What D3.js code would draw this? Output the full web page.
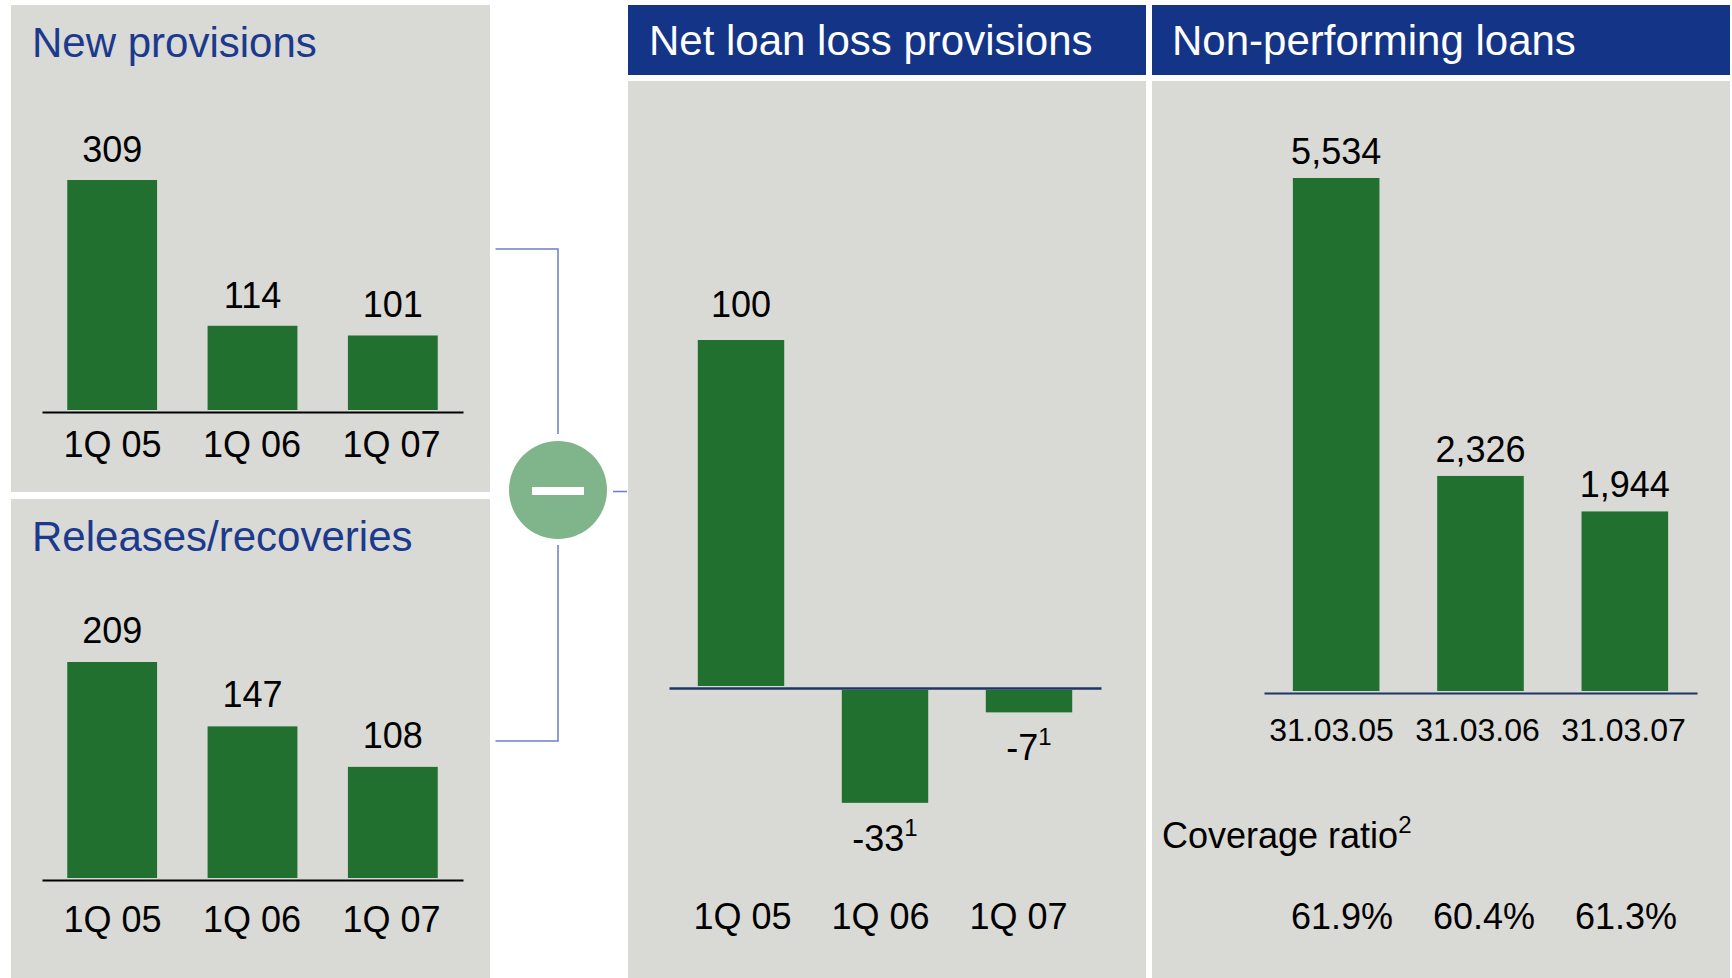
<!DOCTYPE html>
<html>
<head>
<meta charset="utf-8">
<script src="https://cdn.jsdelivr.net/npm/d3@7"></script>
<style>
  html, body { margin: 0; padding: 0; background: #ffffff; }
  svg { display: block; }
  text { font-family: "Liberation Sans", Arial, sans-serif; }
</style>
</head>
<body>
<svg id="chart" width="1732" height="978"></svg>
<script>
// ---------- data ----------
const quarters = ["1Q 05", "1Q 06", "1Q 07"];
const newProvisions = [309, 114, 101];
const releasesRecoveries = [209, 147, 108];
const netLoanLoss = [100, -33, -7];
const netFootnotes = ["", "1", "1"];
const nplDates = ["31.03.05", "31.03.06", "31.03.07"];
const nplValues = [5534, 2326, 1944];
const coverageRatio = [61.9, 60.4, 61.3];

const titles = {
  newProv: "New provisions",
  releases: "Releases/recoveries",
  net: "Net loan loss provisions",
  npl: "Non-performing loans",
  coverage: "Coverage ratio",
  coverageNote: "2"
};

// ---------- styles ----------
const GREY = "#d9d9d5";
const GREEN = "#217030";
const NAVY = "#133487";
const TITLE_BLUE = "#1b3a8d";
const AXIS_NAVY = "#1f3566";
const CONNECTOR = "#6c80c0";
const CIRCLE = "#80b48a";

const locale = d3.formatLocale({ decimal: ".", thousands: ",", grouping: [3], currency: ["", ""], minus: "-" });
const fmtInt = locale.format(",");
const fmtPct = v => locale.format(".1f")(v) + "%";

const svg = d3.select("#chart");

// ---------- panels ----------
svg.append("rect").attr("x", 11).attr("y", 5).attr("width", 479).attr("height", 487).attr("fill", GREY);
svg.append("rect").attr("x", 11).attr("y", 499).attr("width", 479).attr("height", 479).attr("fill", GREY);
svg.append("rect").attr("x", 628).attr("y", 5).attr("width", 518).attr("height", 70).attr("fill", NAVY);
svg.append("rect").attr("x", 628).attr("y", 81).attr("width", 518).attr("height", 897).attr("fill", GREY);
svg.append("rect").attr("x", 1152).attr("y", 5).attr("width", 578).attr("height", 70).attr("fill", NAVY);
svg.append("rect").attr("x", 1152).attr("y", 81).attr("width", 578).attr("height", 897).attr("fill", GREY);

// titles
svg.append("text").attr("x", 32).attr("y", 57).attr("font-size", 42).attr("fill", TITLE_BLUE).text(titles.newProv);
svg.append("text").attr("x", 32).attr("y", 551).attr("font-size", 42).attr("fill", TITLE_BLUE).text(titles.releases);
svg.append("text").attr("x", 649).attr("y", 55).attr("font-size", 42).attr("fill", "#ffffff").text(titles.net);
svg.append("text").attr("x", 1172).attr("y", 55).attr("font-size", 42).attr("fill", "#ffffff").text(titles.npl);

// ---------- connector + minus circle ----------
svg.append("path")
  .attr("d", "M495.5,249 H558 V434 M558,545 V741 H495.5 M613,491.5 H627")
  .attr("fill", "none").attr("stroke", CONNECTOR).attr("stroke-width", 1.5);
svg.append("circle").attr("cx", 558).attr("cy", 490).attr("r", 49).attr("fill", CIRCLE);
svg.append("rect").attr("x", 532).attr("y", 487).attr("width", 52).attr("height", 8).attr("fill", "#ffffff");

// category label row drawn with an axis on a point scale
function labelRow(cats, range, baseline, size) {
  const p = d3.scalePoint().domain(cats).range(range);
  const lg = svg.append("g").attr("transform", `translate(0,${baseline - 0.71 * size})`)
    .call(d3.axisBottom(p).tickSize(0).tickPadding(0));
  lg.select(".domain").remove();
  lg.selectAll("text").attr("font-size", size).attr("fill", "#000")
    .attr("font-family", "'Liberation Sans', Arial, sans-serif");
  return p;
}

// ---------- helper for simple positive bar panel ----------
function barPanel(opts) {
  const { cats, vals, x0, x1, base, topVal, topY, barPad, labelGap, axisColor } = opts;
  const x = d3.scaleBand().domain(cats).range([x0, x1]).paddingInner(barPad).paddingOuter(barPad / 2);
  const y = d3.scaleLinear().domain([0, topVal]).range([base, topY]);
  const g = svg.append("g");
  const data = cats.map((c, i) => ({ c, v: vals[i] }));

  g.selectAll("rect.bar").data(data).join("rect")
    .attr("class", "bar")
    .attr("x", d => x(d.c))
    .attr("width", x.bandwidth())
    .attr("y", d => y(d.v))
    .attr("height", d => y(0) - y(d.v) - 1)
    .attr("fill", GREEN);

  g.selectAll("text.val").data(data).join("text")
    .attr("class", "val")
    .attr("x", d => x(d.c) + x.bandwidth() / 2)
    .attr("y", d => y(d.v) - labelGap)
    .attr("text-anchor", "middle")
    .attr("font-size", 36)
    .attr("fill", "#000")
    .text(d => fmtInt(d.v));

  const ag = g.append("g").attr("transform", `translate(0,${base + 1})`)
    .call(d3.axisBottom(x).tickSize(0).tickSizeOuter(0).tickFormat(""));
  ag.select(".domain").attr("stroke", axisColor).attr("stroke-width", 2.2);
  return x;
}

// New provisions
barPanel({ cats: quarters, vals: newProvisions, x0: 42, x1: 463, base: 411,
  topVal: 309, topY: 180, barPad: 0.36, labelGap: 18, axisColor: "#000" });
labelRow(quarters, [112, 391], 457, 36);

// Releases/recoveries
barPanel({ cats: quarters, vals: releasesRecoveries, x0: 42, x1: 463, base: 879,
  topVal: 209, topY: 662, barPad: 0.36, labelGap: 19, axisColor: "#000" });
labelRow(quarters, [112, 391], 932, 36);

// Non-performing loans
barPanel({ cats: nplDates, vals: nplValues, x0: 1264, x1: 1697, base: 692,
  topVal: 5534, topY: 178, barPad: 0.40, labelGap: 14, axisColor: AXIS_NAVY });
labelRow(nplDates, [1331, 1623], 741, 32);

// coverage ratio
const cov = svg.append("text").attr("x", 1162).attr("y", 848).attr("font-size", 36).attr("fill", "#000");
cov.append("tspan").text(titles.coverage);
cov.append("tspan").attr("font-size", 24).attr("dy", -15).text(titles.coverageNote);

const pctX = d3.scalePoint().domain(nplDates).range([1342, 1626]);
svg.append("g").selectAll("text").data(nplDates.map((c, i) => ({ c, v: coverageRatio[i] }))).join("text")
  .attr("x", d => pctX(d.c))
  .attr("y", 929)
  .attr("text-anchor", "middle")
  .attr("font-size", 36)
  .attr("fill", "#000")
  .text(d => fmtPct(d.v));

// ---------- Net loan loss provisions (pos/neg) ----------
(function () {
  const x = d3.scaleBand().domain(quarters).range([669, 1101]).paddingInner(0.40).paddingOuter(0.20);
  const y = d3.scaleLinear().domain([-33, 100]).range([688 + 33 * 3.48, 688 - 100 * 3.48]);
  const g = svg.append("g");
  const data = quarters.map((c, i) => ({ c, v: netLoanLoss[i], note: netFootnotes[i] }));

  g.selectAll("rect").data(data).join("rect")
    .attr("x", d => x(d.c))
    .attr("width", x.bandwidth())
    .attr("y", d => d.v >= 0 ? y(d.v) : y(0) + 2)
    .attr("height", d => Math.abs(y(d.v) - y(0)) - 2)
    .attr("fill", GREEN);

  const lbl = g.selectAll("text.val").data(data).join("text")
    .attr("class", "val")
    .attr("x", d => x(d.c) + x.bandwidth() / 2)
    .attr("y", d => d.v >= 0 ? y(d.v) - 23 : y(d.v) + 48)
    .attr("text-anchor", "middle")
    .attr("font-size", 36)
    .attr("fill", "#000");
  lbl.append("tspan").text(d => fmtInt(d.v));
  lbl.append("tspan").attr("font-size", 24).attr("dy", -15).text(d => d.note);

  const ag = g.append("g").attr("transform", `translate(0,${y(0)})`)
    .call(d3.axisBottom(x).tickSize(0).tickSizeOuter(0).tickFormat(""));
  ag.select(".domain").attr("stroke", AXIS_NAVY).attr("stroke-width", 2.5);

  labelRow(quarters, [742, 1018], 929, 36);
})();
</script>
</body>
</html>
